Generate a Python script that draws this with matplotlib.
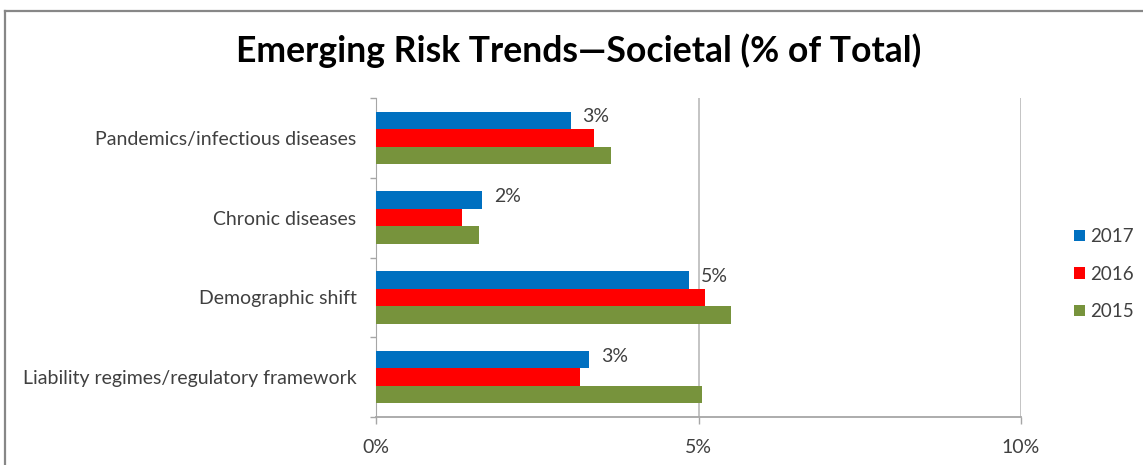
import numpy as np
import matplotlib
matplotlib.use('Agg')
import matplotlib.pyplot as plt
from matplotlib.lines import Line2D

# --- datos ---
categorias = ['Liability regimes/regulatory framework', 'Demographic shift',
              'Chronic diseases', 'Pandemics/infectious diseases']
v2017 = [3.30, 4.85, 1.65, 3.02]
v2016 = [3.17, 5.10, 1.33, 3.38]
v2015 = [5.05, 5.50, 1.60, 3.65]
etiquetas_2017 = ['3%', '5%', '2%', '3%']
anios = ['2017', '2016', '2015']
xticks_vals = [0, 5, 10]
xticks_txt = ['0%', '5%', '10%']

colores = ['#0070C0', '#FF0000', '#77933C']
gris_txt = '#404040'
fuente = 'Lato'
tam = 14

fig = plt.figure(figsize=(11.43, 4.65), dpi=100, facecolor='white')
ax = fig.add_axes([376 / 1143, 1 - 417 / 465, 645 / 1143, 319 / 465])

y = np.arange(len(categorias))
h = 0.22
series = [v2017, v2016, v2015]
for i, (vals, col, lab) in enumerate(zip(series, colores, anios)):
    ax.barh(y + h * (1 - i), vals, height=h, color=col, label=lab, zorder=3)

# etiquetas de la serie 2017
for yi, v, t in zip(y, v2017, etiquetas_2017):
    ax.annotate(t, (v, yi + h), xytext=(8.5, 2.5), textcoords='offset points',
                ha='left', va='center', fontsize=tam, color=gris_txt,
                family=fuente)

ax.set_xlim(0, 10)
ax.set_ylim(-0.5, 3.5)
ax.set_xticks(xticks_vals)
ax.set_xticklabels(xticks_txt, fontsize=tam, color=gris_txt, family=fuente)
ax.set_yticks(y)
ax.set_yticklabels(categorias, fontsize=tam, color=gris_txt, family=fuente)
ax.set_yticks(np.arange(-0.5, 4, 1), minor=True)
ax.tick_params(axis='y', which='major', length=0, pad=14)
ax.tick_params(axis='y', which='minor', length=4, color='#A6A6A6', width=1)
ax.tick_params(axis='x', length=5, color='#A6A6A6', width=1, pad=11)

ax.grid(axis='x', color='#BFBFBF', lw=1.3, zorder=0)
for s in ['top', 'right']:
    ax.spines[s].set_visible(False)
ax.spines['left'].set_color('#A6A6A6')
ax.spines['bottom'].set_color('#A6A6A6')
ax.spines['bottom'].set_linewidth(1.3)

fig.text(579 / 1143, 1 - 51 / 465, 'Emerging Risk Trends\u2014Societal (% of Total)',
         ha='center', va='center', fontsize=25.6, fontweight='bold',
         color='black', family=fuente)

leg = ax.legend(loc='center left', bbox_to_anchor=(1065 / 1143, 1 - 274 / 465),
                bbox_transform=fig.transFigure, frameon=False, fontsize=13.5,
                handlelength=0.55, handleheight=0.55, handletextpad=0.3,
                labelspacing=1.1, borderpad=0)
for t in leg.get_texts():
    t.set_color(gris_txt)
    t.set_family(fuente)

# borde del grafico
fig.add_artist(Line2D([5 / 1143, 1.0], [1 - 11 / 465, 1 - 11 / 465],
                      transform=fig.transFigure, color='#878787', lw=1.6))
fig.add_artist(Line2D([5 / 1143, 5 / 1143], [0, 1 - 11 / 465],
                      transform=fig.transFigure, color='#878787', lw=1.6))

fig.savefig('out.png', dpi=100, facecolor='white')
